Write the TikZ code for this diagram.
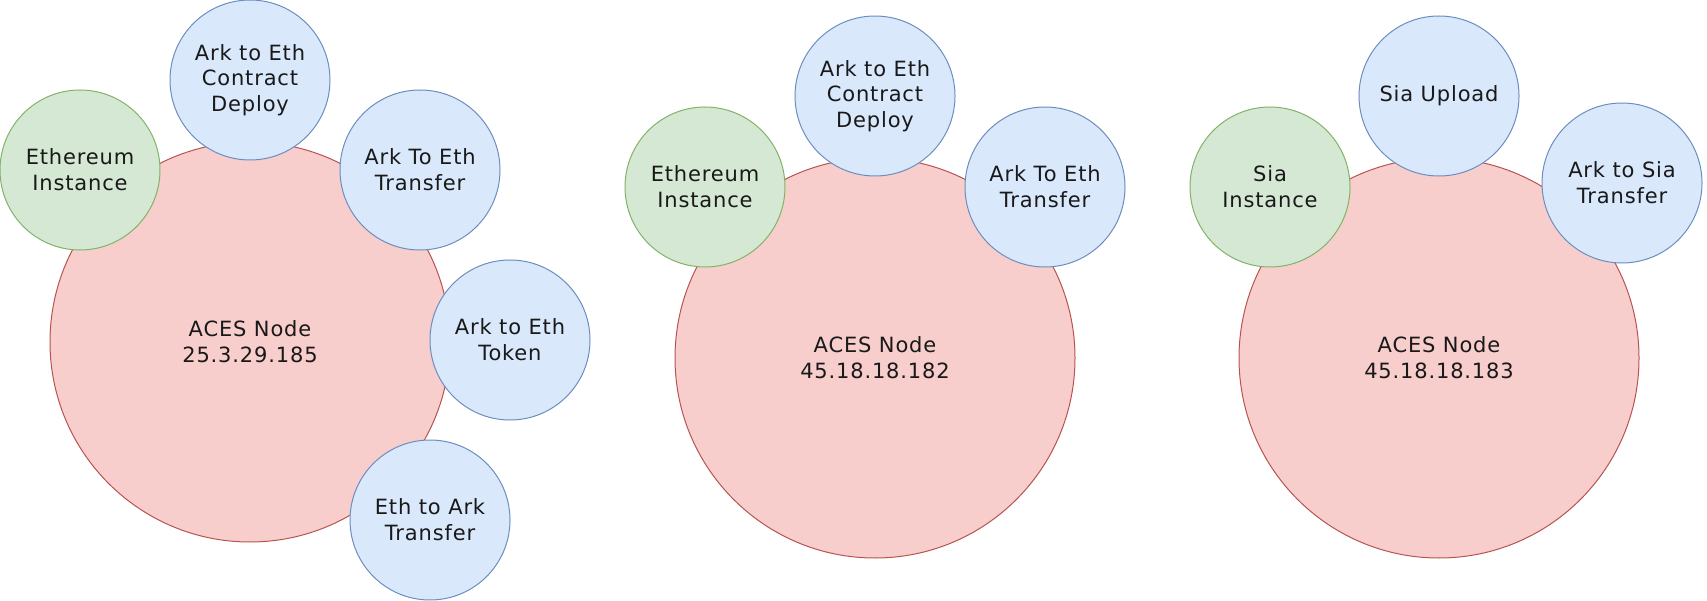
\documentclass[tikz,border=0pt]{standalone}
\usepackage{fontspec}
\setmainfont{DejaVu Sans}[LetterSpace=4]
\definecolor{redfill}{HTML}{F8CECC}
\definecolor{redline}{HTML}{B85450}
\definecolor{greenfill}{HTML}{D5E8D4}
\definecolor{greenline}{HTML}{82B366}
\definecolor{bluefill}{HTML}{DAE8FC}
\definecolor{blueline}{HTML}{6C8EBF}
\tikzset{
  circ/.style={circle, inner sep=0pt, outer sep=0pt, line width=1pt, align=center,
    font=\fontsize{21}{25.7}\selectfont, text=black!90},
  acesnode/.style={circ, minimum size=400pt, fill=redfill, draw=redline},
  inst/.style={circ, minimum size=160pt, fill=greenfill, draw=greenline},
  svc/.style={circ, minimum size=160pt, fill=bluefill, draw=blueline},
}
\begin{document}
\begin{tikzpicture}[x=1pt,y=-1pt]
\useasboundingbox (0,0) rectangle (1707,601);
% group 1
\node[acesnode] (n1) at (250,342) {ACES Node\\25.3.29.185};
\node[inst] (e1) at (80,170) {Ethereum\\Instance};
\node[svc] (d1) at (250,80) {Ark to Eth\\Contract\\Deploy};
\node[svc] (t1) at (420,170) {Ark To Eth\\Transfer};
\node[svc] (k1) at (510,340) {Ark to Eth\\Token};
\node[svc] (r1) at (430,520) {Eth to Ark\\Transfer};
% group 2
\node[acesnode] (n2) at (875,358) {ACES Node\\45.18.18.182};
\node[inst] (e2) at (705,187) {Ethereum\\Instance};
\node[svc] (d2) at (875,96) {Ark to Eth\\Contract\\Deploy};
\node[svc] (t2) at (1045,187) {Ark To Eth\\Transfer};
% group 3
\node[acesnode] (n3) at (1439,358) {ACES Node\\45.18.18.183};
\node[inst] (s3) at (1270,187) {Sia\\Instance};
\node[svc] (u3) at (1439,96) {Sia Upload};
\node[svc] (t3) at (1622,183) {Ark to Sia\\Transfer};
\end{tikzpicture}
\end{document}
